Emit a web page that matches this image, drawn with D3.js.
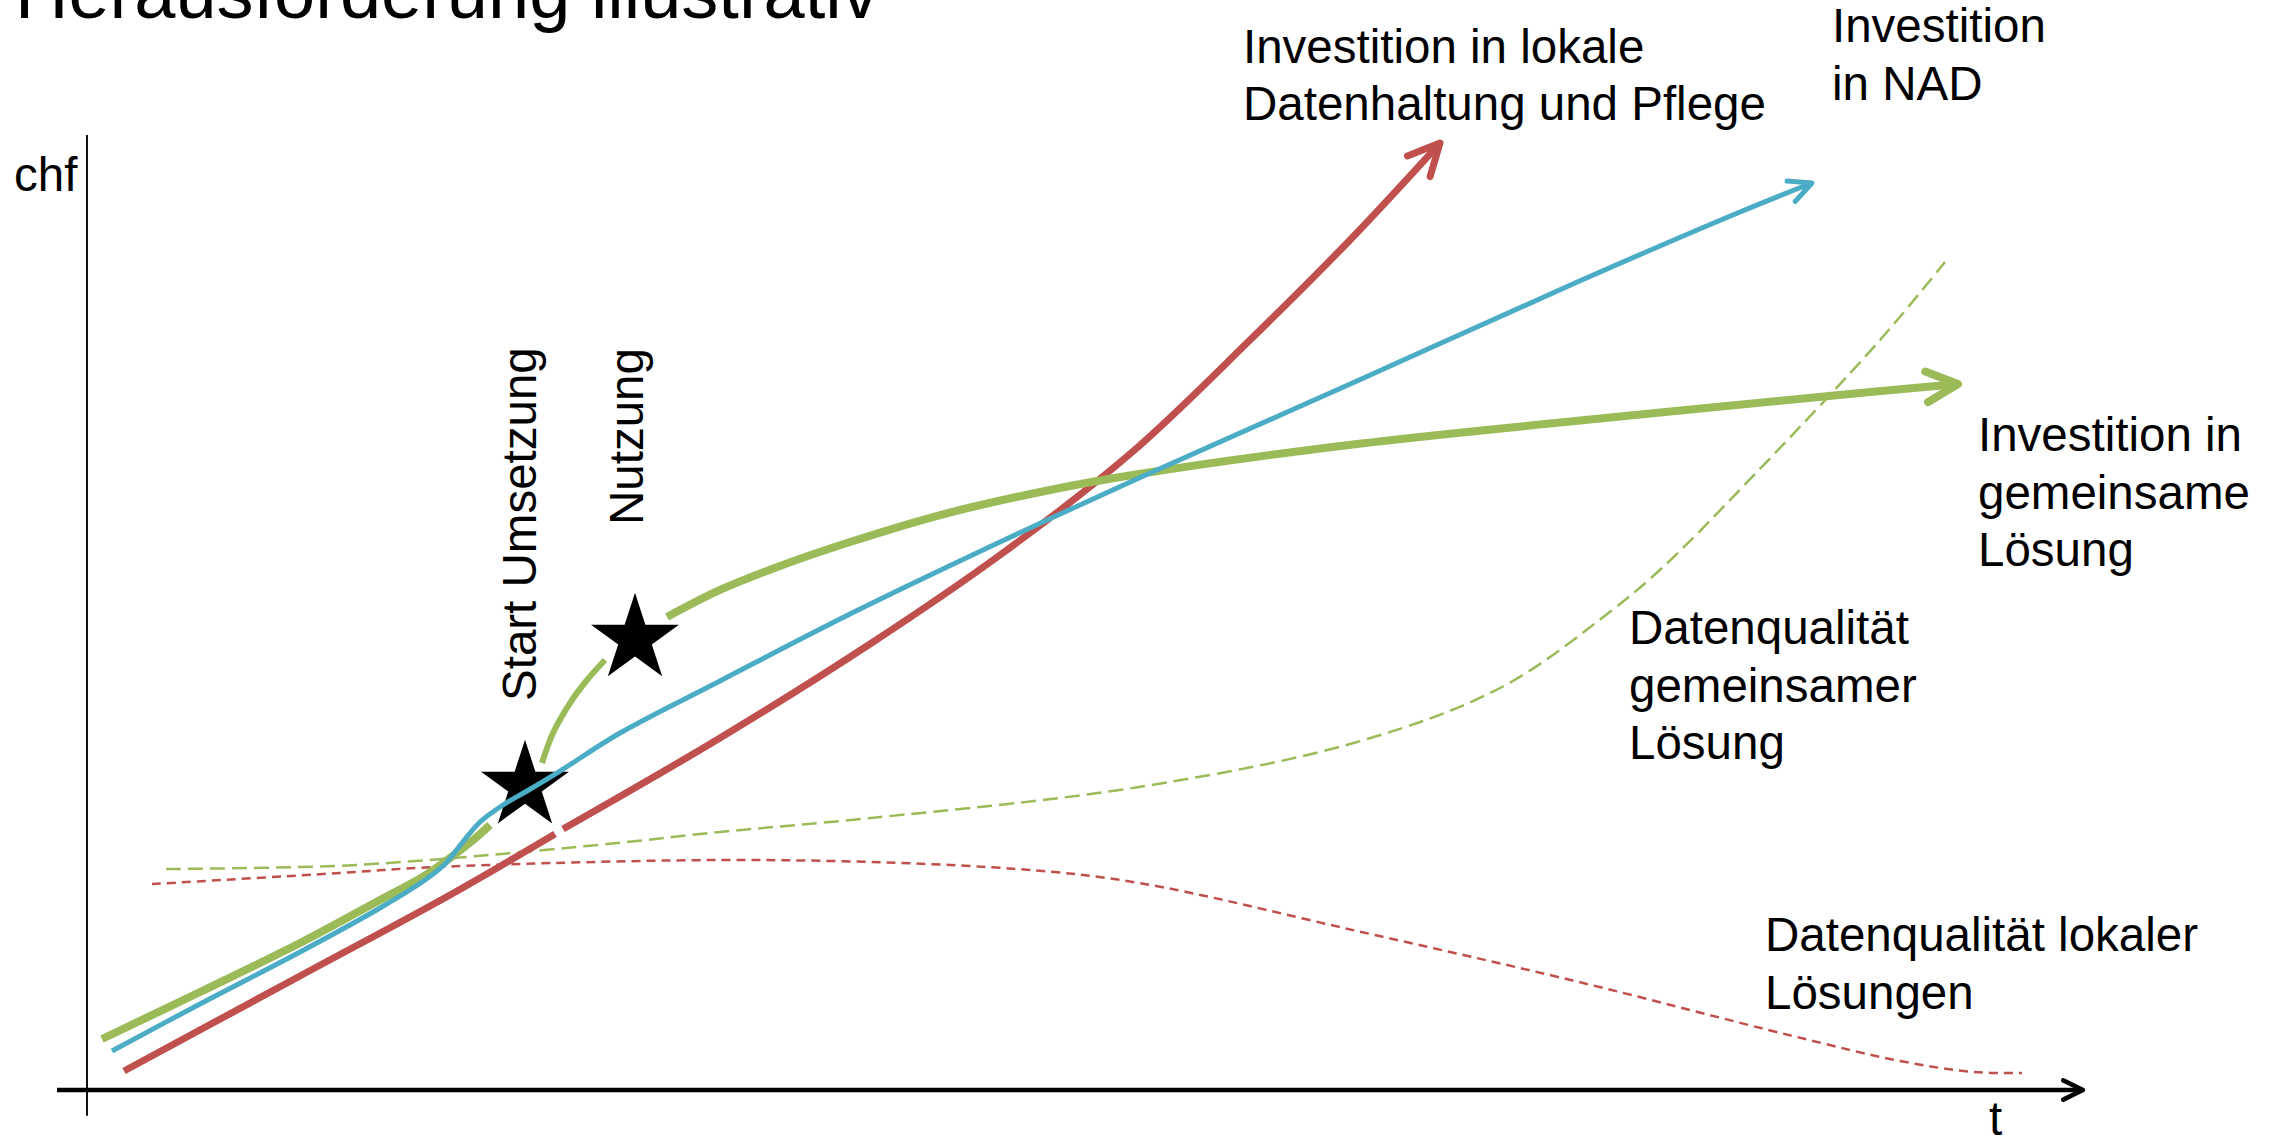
<!DOCTYPE html>
<html>
<head>
<meta charset="utf-8">
<script src="https://cdn.jsdelivr.net/npm/d3@7"></script>
<style>
  body { margin: 0; background: #fff; }
  text { font-family: "Liberation Sans", Arial, sans-serif; fill: #000; }
</style>
</head>
<body>
<div id="chart"></div>
<script>
var svgWidth = 2278;
var svgHeight = 1137;

// Illustrative curves, in chart units (t: 0..100, chf: 0..100)
var redInvestLow = [[1.85, 1.99], [10.65, 11.94], [18.15, 20.42], [23.4, 26.81]];
var redInvestHigh = [[23.8, 27.33], [31.65, 36.86], [39.15, 46.7], [45.65, 56.02], [52.15, 66.6], [58.15, 78.53], [63.15, 89.01], [67.65, 99.16]];

var blueInvest = [[1.25, 4.08], [5.65, 9.01], [10.65, 14.45], [14.65, 19.06], [16.9, 21.99], [17.9, 23.66], [18.75, 25.86], [19.65, 28.06], [20.8, 29.84], [22.0, 31.31], [23.65, 33.4], [26.65, 37.38], [31.65, 42.83], [38.15, 49.84], [45.65, 57.38], [52.6, 64.08], [63.5, 74.24], [74.4, 84.5], [82.65, 91.94], [86.25, 94.97]];

var greenInvestLow = [[0.75, 5.34], [5.65, 10.26], [10.65, 15.39], [14.65, 19.9], [16.7, 22.2], [18.15, 24.29], [19.25, 26.07], [20.15, 27.75]];
var greenInvestMid = [[22.75, 34.24], [23.3, 37.38], [24.15, 40.52], [25.0, 42.93], [25.9, 45.03]];
var greenInvestHigh = [[29.0, 49.53], [31.65, 52.36], [34.65, 54.87], [38.15, 57.38], [42.85, 60.31], [48.15, 62.83], [52.6, 64.5], [63.5, 67.64], [74.4, 70.05], [87.1, 72.67], [93.55, 73.93]];

var redQuality = [[3.25, 21.57], [12.65, 22.72], [17.45, 23.35], [33.75, 24.08], [46.5, 23.14], [52.6, 21.68], [63.5, 16.65], [74.4, 11.41], [85.3, 5.65], [90.65, 3.04], [94.35, 1.88], [96.75, 1.78]];
var greenQuality = [[3.95, 23.14], [12.4, 23.46], [18.3, 24.29], [26.5, 25.86], [31.65, 27.02], [39.2, 28.48], [52.6, 31.73], [63.5, 36.44], [70.75, 42.2], [76.2, 50.16], [78.75, 54.66], [83.45, 64.61], [89.65, 78.53], [92.9, 86.7]];

// milestones (stars)
var milestones = [[21.9, 31.83], [27.4, 47.23]];

// axis extents
var xAxisExtent = [-1.5, 99.8];
var yAxisExtent = [-2.7, 100];

var titleText = "Herausforderung illustrativ";

var red = "#C0504D", blue = "#4BACC6", green = "#9BBB59";

var svg = d3.select("#chart")
  .append("svg")
  .attr("width", svgWidth)
  .attr("height", svgHeight);

var xScale = d3.scaleLinear().domain([0, 100]).range([87, 2087]);
var yScale = d3.scaleLinear().domain([0, 100]).range([1090, 135]);

var line = d3.line()
  .x(d => xScale(d[0]))
  .y(d => yScale(d[1]))
  .curve(d3.curveCatmullRom.alpha(0.5));

// open arrow head at the end of a path
function chevron(node, len, color, width) {
  var L = node.getTotalLength();
  var p1 = node.getPointAtLength(L);
  var p0 = node.getPointAtLength(Math.max(0, L - 14));
  var a = Math.atan2(p1.y - p0.y, p1.x - p0.x);
  var h = 26 * Math.PI / 180;
  var pts = [
    [p1.x - len * Math.cos(a - h), p1.y - len * Math.sin(a - h)],
    [p1.x, p1.y],
    [p1.x - len * Math.cos(a + h), p1.y - len * Math.sin(a + h)]
  ];
  svg.append("path")
    .attr("d", d3.line()(pts))
    .attr("fill", "none")
    .attr("stroke", color)
    .attr("stroke-width", width)
    .attr("stroke-linecap", "round")
    .attr("stroke-linejoin", "round");
}

// Axes
svg.append("line")
  .attr("x1", xScale(0)).attr("x2", xScale(0))
  .attr("y1", yScale(yAxisExtent[0])).attr("y2", yScale(yAxisExtent[1]))
  .attr("stroke", "#111").attr("stroke-width", 2);

var xAxisLine = svg.append("path")
  .attr("d", d3.line()([[xScale(xAxisExtent[0]), yScale(0)], [xScale(xAxisExtent[1]), yScale(0)]]))
  .attr("stroke", "#000").attr("stroke-width", 4.5).attr("fill", "none");
chevron(xAxisLine.node(), 22, "#000", 4.5);

// Dashed quality curves
svg.append("path")
  .attr("d", line(redQuality))
  .attr("fill", "none").attr("stroke", red)
  .attr("stroke-width", 2.5).attr("stroke-dasharray", "9,6");

svg.append("path")
  .attr("d", line(greenQuality))
  .attr("fill", "none").attr("stroke", green)
  .attr("stroke-width", 2.5).attr("stroke-dasharray", "15,7");

// Investment curves
function solid(data, color, width) {
  return svg.append("path")
    .attr("d", line(data))
    .attr("fill", "none")
    .attr("stroke", color)
    .attr("stroke-width", width);
}

solid(redInvestLow, red, 7);
var redHigh = solid(redInvestHigh, red, 7);
chevron(redHigh.node(), 35, red, 7);

solid(greenInvestLow, green, 8);
solid(greenInvestMid, green, 6);
var greenHigh = solid(greenInvestHigh, green, 8);
chevron(greenHigh.node(), 35, green, 8);

// Stars
var star = d3.symbol().type(d3.symbolStar).size(2400);
svg.selectAll(".star")
  .data(milestones)
  .enter()
  .append("path")
  .attr("class", "star")
  .attr("d", star)
  .attr("transform", d => `translate(${xScale(d[0])}, ${yScale(d[1])})`)
  .attr("fill", "#000");

var blueLine = solid(blueInvest, blue, 5);
chevron(blueLine.node(), 25, blue, 5);

// Texts
svg.append("text")
  .attr("x", 15).attr("y", 18)
  .attr("font-size", 74)
  .text(titleText);

svg.append("text").attr("x", 14).attr("y", 191).attr("font-size", 47.5).text("chf");
svg.append("text").attr("x", 1989).attr("y", 1135).attr("font-size", 47.5).text("t");

var labels = [
  { x: 1243, y: 62.5, lines: ["Investition in lokale", "Datenhaltung und Pflege"] },
  { x: 1832, y: 42, lines: ["Investition", "in NAD"] },
  { x: 1978, y: 451, lines: ["Investition in", "gemeinsame", "Lösung"] },
  { x: 1629, y: 644, lines: ["Datenqualität", "gemeinsamer", "Lösung"] },
  { x: 1765, y: 951, lines: ["Datenqualität lokaler", "Lösungen"] }
];

labels.forEach(l => {
  var t = svg.append("text")
    .attr("x", l.x).attr("y", l.y)
    .attr("font-size", 47.5);
  t.selectAll("tspan")
    .data(l.lines)
    .enter()
    .append("tspan")
    .attr("x", l.x)
    .attr("dy", (d, i) => i === 0 ? 0 : 57.5)
    .text(d => d);
});

svg.append("text")
  .attr("transform", "translate(536, 701) rotate(-90)")
  .attr("font-size", 47.5)
  .text("Start Umsetzung");

svg.append("text")
  .attr("transform", "translate(643, 525) rotate(-90)")
  .attr("font-size", 47.5)
  .text("Nutzung");
</script>
</body>
</html>
